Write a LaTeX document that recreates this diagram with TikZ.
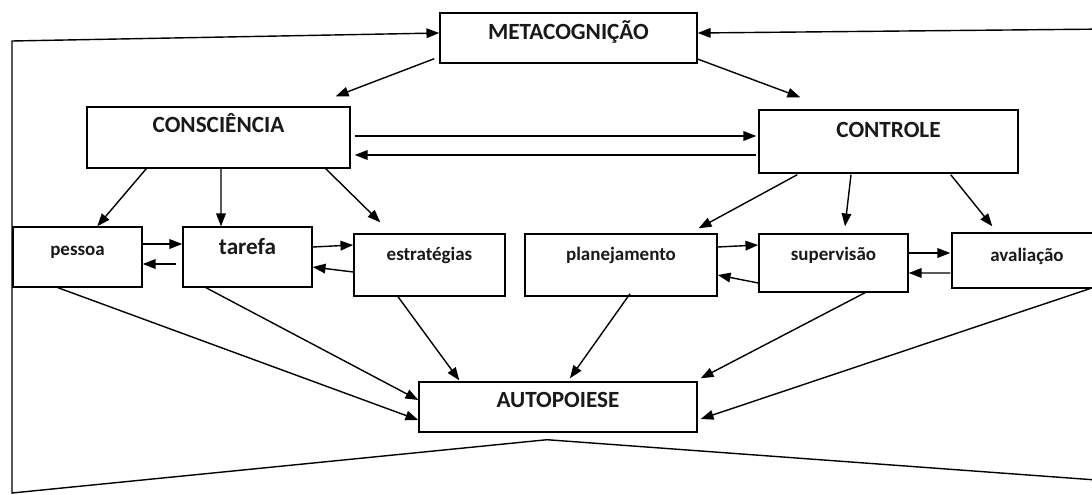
\documentclass[tikz,border=0pt]{standalone}
\usepackage{fontspec}
\setmainfont{Carlito}
\usetikzlibrary{arrows.meta,calc}

\begin{document}
\begin{tikzpicture}[x=0.025cm,y=-0.025cm,
  caixa/.style={draw, line width=1pt, inner sep=0pt, text height=1.4ex, text=black!90},
  grande/.style={font=\fontsize{16.5}{19}\selectfont\bfseries},
  pequeno/.style={font=\fontsize{13.5}{16}\selectfont\bfseries},
  seta/.style={-{Triangle[length=3.2mm,width=2.4mm]}, line width=1pt},
  linha/.style={line width=1pt}]
\useasboundingbox (0,0) rectangle (1092,494);
\clip (0,0) rectangle (1092,494);

% ======================= CAIXAS =======================
\node[caixa, grande, minimum width=6.425cm, minimum height=1.25cm, text depth=0.15cm] (meta) at (568.5,38) {METACOGNIÇÃO};
\node[caixa, grande, minimum width=6.575cm, minimum height=1.525cm, text depth=0.475cm] (consc) at (218.5,137.5) {CONSCIÊNCIA};
\node[caixa, grande, minimum width=6.475cm, minimum height=1.575cm, text depth=0.425cm] (contr) at (888.5,141.5) {CONTROLE};

\node[caixa, pequeno, minimum width=3.225cm, minimum height=1.5cm, text depth=0.3cm] (pessoa) at (77.5,257) {pessoa};
\node[caixa, grande, minimum width=3.225cm, minimum height=1.5cm, text depth=0.35cm] (tarefa) at (247.5,257) {tarefa};
\node[caixa, pequeno, minimum width=3.775cm, minimum height=1.55cm, text depth=0.45cm] (estr) at (429.5,265) {estratégias};
\node[caixa, pequeno, minimum width=4.8cm, minimum height=1.55cm, text depth=0.45cm] (plan) at (621,265) {planejamento};
\node[caixa, pequeno, minimum width=3.725cm, minimum height=1.45cm, text depth=0.35cm] (sup) at (833.5,263) {supervisão};
\node[caixa, pequeno, minimum width=3.75cm, minimum height=1.375cm, text depth=0.175cm] (aval) at (1027,260.5) {avaliação};

\node[caixa, grande, minimum width=6.95cm, minimum height=1.25cm, text depth=0.2cm] (auto) at (558,407) {AUTOPOIESE};

% ======================= RETORNO (moldura) =======================
\coordinate (apex) at ($(auto.south)+(-11,7)$);
\draw[seta] (apex) -- (12,493) -- (12,41) -- ($(meta.west)+(0,-5)$);
\draw[seta] (apex) -- (1110,481) -- (1110,29) -- ($(meta.east)+(0,-5)$);

% ======================= METACOGNIÇÃO -> CONSCIÊNCIA / CONTROLE =======================
\draw[seta] ($(meta.south west)+(-5,-5)$) -- ($(consc.north east)+(-15,-10)$);
\draw[seta] ($(meta.south east)+(-1,-5)$) -- ($(contr.north west)+(42,-12)$);
\draw[seta] ($(consc.east)+(4,-1.5)$) -- ($(contr.west)+(-2,-5.5)$);
\draw[seta] ($(contr.west)+(-2,13.5)$) -- ($(consc.east)+(4,17.5)$);

% ======================= CONSCIÊNCIA =======================
\draw[seta] ($(consc.south west)+(60,0)$) -- ($(pessoa.north west)+(85,0)$);
\draw[seta] ($(consc.south)+(2.5,0)$) -- ($(tarefa.north)+(-26.5,0)$);
\draw[seta] ($(consc.south east)+(-25,0)$) -- ($(estr.north west)+(27,-11)$);
\draw[seta] ($(pessoa.east)+(0,-13)$) -- ($(tarefa.west)+(0,-13)$);
\draw[seta] ($(tarefa.west)+(-6,7)$) -- ($(pessoa.east)+(0,7)$);
\draw[seta] ($(tarefa.east)+(0,-10)$) -- ($(estr.west)+(0,-20)$);
\draw[seta] ($(estr.west)+(0,7)$) -- ($(tarefa.east)+(0,10)$);

% ======================= CONTROLE =======================
\draw[seta] ($(contr.south west)+(39,1)$) -- ($(plan.north east)+(-19,-5)$);
\draw[seta] ($(contr.south)+(-37.5,1)$) -- ($(sup.north)+(11.5,-7)$);
\draw[seta] ($(contr.south east)+(-68,1)$) -- ($(aval.north west)+(41,-6)$);
\draw[seta] ($(plan.east)+(0,-18)$) -- ($(sup.west)+(0,-18)$);
\draw[seta] ($(sup.west)+(0,20)$) -- ($(plan.east)+(0,10)$);
\draw[seta] ($(sup.east)+(0,-10)$) -- ($(aval.west)+(-1,-7.5)$);
\draw[seta] ($(aval.west)+(-1,12.5)$) -- ($(sup.east)+(0,10)$);

% ======================= -> AUTOPOIESE =======================
\draw[seta] ($(pessoa.south)+(-19.5,0)$) -- ($(auto.west)+(0,13)$);
\draw[seta] ($(tarefa.south)+(-41.5,0)$) -- ($(auto.west)+(0,-7)$);
\draw[seta] ($(estr.south)+(-31.5,0)$) -- ($(auto.north west)+(41,-1)$);
\draw[seta] ($(plan.south)+(9,-3)$) -- ($(auto.north)+(12,-3)$);
\draw[seta] ($(sup.south)+(31.5,0)$) -- ($(auto.north east)+(3,-3)$);
\draw[seta] ($(aval.south east)+(-13,0)$) -- ($(auto.east)+(3,12)$);

\end{tikzpicture}
\end{document}
